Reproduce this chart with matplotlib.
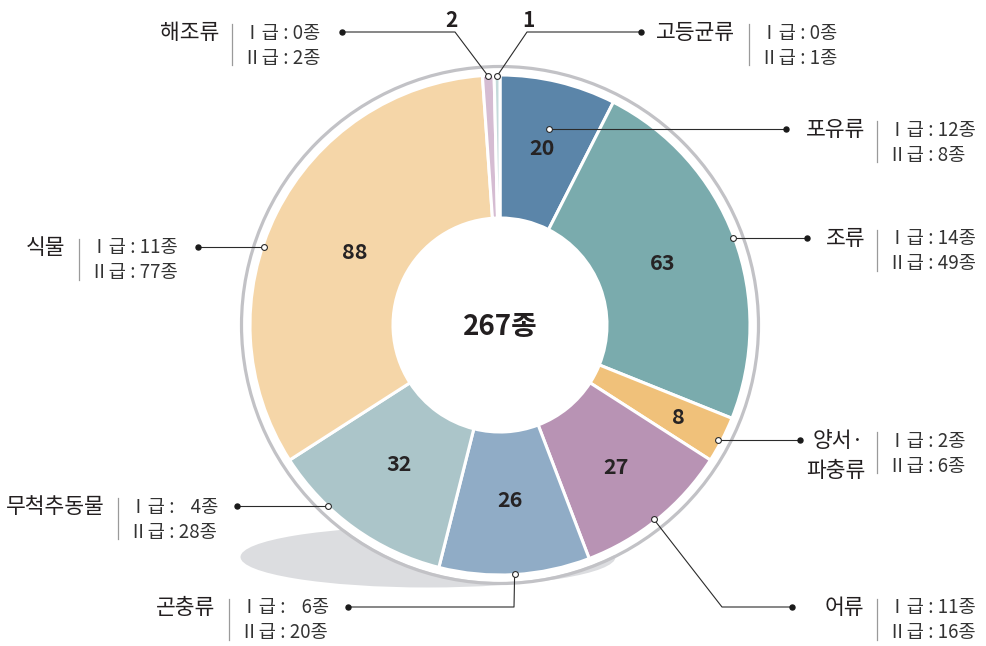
import matplotlib
matplotlib.use('Agg')
import matplotlib.pyplot as plt
import numpy as np
from matplotlib.patches import Circle, Ellipse

plt.rcParams['font.family'] = ['Noto Sans CJK KR', 'DejaVu Sans']

# ---- data (clockwise from top) ----
categories = ['포유류', '조류', '양서·\n파충류', '어류', '곤충류', '무척추동물', '식물', '해조류', '고등균류']
class1 = [12, 14, 2, 11, 6, 4, 11, 0, 0]
class2 = [8, 49, 6, 16, 20, 28, 77, 2, 1]
totals = [a + b for a, b in zip(class1, class2)]
total_label = f"{sum(totals)}종"
colors = ['#5b85a9', '#7aabad', '#f0c17a', '#b893b4', '#90acc6',
          '#abc5c9', '#f5d6a8', '#d5bcd2', '#c5dadb']

# ---- layout (pixel units, y downward) ----
W, H = 987, 646
CX, CY = 500, 325
R, HOLE = 250, 107
inner_r = [182, 174, 201, 184, 176, 172, 162, None, None]      # number label radius
anchor_frac = [0.52, 0.5, 0.55, 0.52, 0.5, 0.68, 0.43, 0.5, 0.5]  # position along wedge (clockwise)
anchor_r = [202, 249, 247, 248, 249, 250, 249, 249, 249]
dot_x = [786, 807, 800, 792, 348, 237, 198, 342, 641]
elbow = [None, None, None, (722, 607), (514, 607), None, None, (455, 32), (527, 32)]
outside_num = [None, None, None, None, None, None, None, (451, 20), (528, 20)]
name_right = [865, 865, 864, 864, 215, 105, 65, 219, 735]
sep_x = [877, 877, 877, 877, 229, 118, 79, 232, 749]
left_side = [False, False, False, False, True, True, True, True, False]

fig = plt.figure(figsize=(W / 100, H / 100), dpi=100)
ax = fig.add_axes([0, 0, 1, 1])


def P(x, y):
    return x, H - y


# shadow
ax.add_patch(Ellipse(P(428, 557), 375, 61, color='#dcdde0', lw=0, zorder=0))
ax.add_patch(Circle(P(CX, CY), 257, color='white', lw=0, zorder=0.5))
ax.add_patch(Circle(P(CX, CY), 258.5, fill=False, ec='#c2c2c6', lw=2.3, zorder=0.6))

wedges, _ = ax.pie(totals, colors=colors, radius=R, center=P(CX, CY), startangle=90,
                   counterclock=False, frame=True,
                   wedgeprops=dict(width=R - HOLE, edgecolor='white', linewidth=2.2, zorder=2))
for w in wedges:
    w.set_zorder(2)

ax.text(*P(CX, CY + 2), total_label, ha='center', va='center', fontsize=20,
        fontweight='bold', color='#231f20', zorder=5)

line_kw = dict(color='#2b2b2b', lw=0.8, zorder=4, solid_capstyle='butt')

for i, w in enumerate(wedges):
    t1, t2 = w.theta1, w.theta2
    mid = np.deg2rad((t1 + t2) / 2)
    cx0, cy0 = P(CX, CY)
    if inner_r[i] is not None:
        ax.text(cx0 + inner_r[i] * np.cos(mid), cy0 + inner_r[i] * np.sin(mid), str(totals[i]),
                ha='center', va='center', fontsize=15.5, fontweight='bold', color='#262324', zorder=5)
    ang = np.deg2rad(t2 - anchor_frac[i] * (t2 - t1))
    ax_, ay_ = cx0 + anchor_r[i] * np.cos(ang), cy0 + anchor_r[i] * np.sin(ang)
    if elbow[i] is None:
        dx, dy = dot_x[i], ay_
        ax.plot([ax_, dx], [ay_, dy], **line_kw)
    else:
        ex, ey = P(*elbow[i])
        dx, dy = dot_x[i], ey
        ax.plot([ax_, ex, dx], [ay_, ey, dy], **line_kw)
    ax.plot([ax_], [ay_], 'o', ms=4.2, mfc='white', mec='#2b2b2b', mew=0.8, zorder=6)
    ax.plot([dx], [dy], 'o', ms=3.6, color='#1a1a1a', zorder=6)
    if outside_num[i] is not None:
        ax.text(*P(*outside_num[i]), str(totals[i]), ha='center', va='center', fontsize=15,
                fontweight='bold', color='#231f20')

    # text block
    ypx = H - dy  # pixel y of dot
    nm = categories[i]
    if '\n' in nm:
        l1, l2 = nm.split('\n')
        ax.text(*P(name_right[i], ypx + 1), l1, ha='right', va='center', fontsize=15.5, color='#231f20')
        ax.text(*P(name_right[i] + 1, ypx + 31), l2, ha='right', va='center', fontsize=15.5, color='#231f20')
    else:
        ax.text(*P(name_right[i], ypx + 1), nm, ha='right', va='center', fontsize=15.5, color='#231f20')
    ax.plot([sep_x[i], sep_x[i]], [H - (ypx - 8), H - (ypx + 33)], color='#9a9a9a', lw=0.9)
    v1, v2 = str(class1[i]), str(class2[i])
    if left_side[i]:
        wdt = max(len(v1), len(v2))
        v1 = v1.rjust(wdt, '\u2007')
        v2 = v2.rjust(wdt, '\u2007')
    cxp = sep_x[i] + 11
    for k, (num, val) in enumerate([('Ⅰ', v1), ('Ⅱ', v2)]):
        yy = ypx + 1 + k * 25
        ax.text(*P(cxp, yy), f"{num}급 : {val}종", ha='left', va='center', fontsize=13.5,
                color='#333333')

ax.set_xlim(0, W)
ax.set_ylim(0, H)
ax.set_aspect('equal')
ax.axis('off')
fig.savefig('out.png', dpi=100)
